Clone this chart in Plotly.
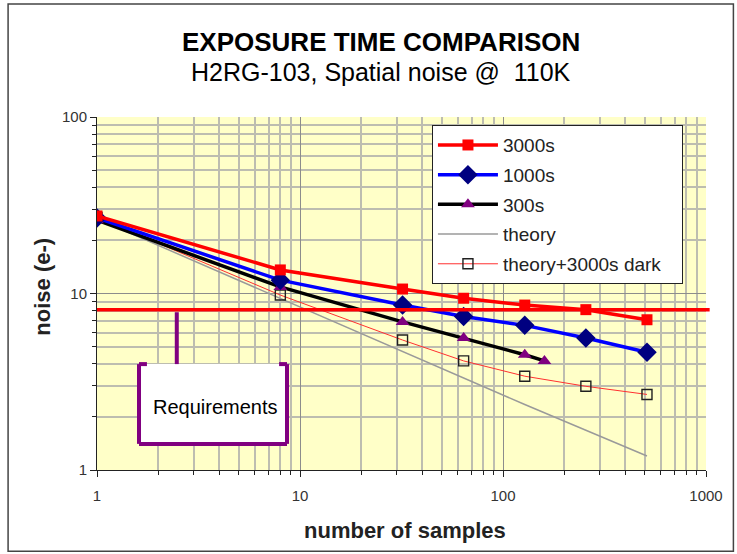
import plotly.graph_objects as go

# ============================
# DADOS
# ============================

samples = [1, 8, 32, 64, 128, 256, 512]
samples_300 = [1, 8, 32, 64, 128, 160]

noise_3000s = [27.5, 13.6, 10.6, 9.4, 8.6, 8.1, 7.1]
noise_1000s = [26.8, 11.9, 8.6, 7.4, 6.6, 5.6, 4.65]
noise_300s = [26.0, 10.9, 6.9, 5.6, 4.5, 4.15]
noise_theory = [26.5, 9.4, 4.7, 3.3, 2.35, 1.68, 1.2]
noise_theory_dark = [27.0, 9.8, 5.45, 4.15, 3.4, 2.98, 2.68]

requirement = 8.1

x_ticks = [1, 10, 100, 1000]
y_ticks = [1, 10, 100]
x_minor = [m * d for d in (1, 10, 100) for m in range(2, 10)]
y_minor = [m * d for d in (1, 10) for m in range(2, 10)]

FONT = "Liberation Sans, Arial, sans-serif"
PURPLE = "#800080"

fig = go.Figure()

# ============================
# SÉRIES
# ============================

fig.add_trace(go.Scatter(
    x=samples, y=noise_theory, name="theory", mode="lines",
    line=dict(color="#9a9a9a", width=1.5),
    legendrank=4, legendgroup="d",
))

fig.add_trace(go.Scatter(
    x=samples, y=noise_theory_dark, name="theory+3000s dark\u00a0\u00a0\u00a0",
    mode="lines+markers",
    line=dict(color="#ff3030", width=1),
    marker=dict(symbol="square-open", size=10, color="#202020", line=dict(width=1.4)),
    legendrank=5, legendgroup="e",
))

fig.add_trace(go.Scatter(
    x=samples_300, y=noise_300s, name="300s", mode="lines+markers",
    line=dict(color="#000000", width=3.5),
    marker=dict(symbol="triangle-up", size=12, color=PURPLE),
    legendrank=3, legendgroup="c",
))

fig.add_trace(go.Scatter(
    x=samples, y=noise_1000s, name="1000s", mode="lines+markers",
    line=dict(color="#0000ff", width=3.5),
    marker=dict(symbol="diamond", size=15, color="#000080"),
    legendrank=2, legendgroup="b",
))

fig.add_trace(go.Scatter(
    x=samples, y=noise_3000s, name="3000s", mode="lines+markers",
    line=dict(color="#ff0000", width=3.5),
    marker=dict(symbol="square", size=11, color="#ff0000"),
    legendrank=1, legendgroup="a",
))

# ============================
# LINHA DE REQUISITO + CAIXA
# ============================

fig.add_shape(type="line", xref="paper", yref="y", x0=0, x1=1.006,
              y0=requirement, y1=requirement,
              line=dict(color="#ff0000", width=3.5), layer="above")

fig.add_shape(type="rect", xref="paper", yref="paper", x0=0.069, x1=0.312,
              y0=0.074, y1=0.300, fillcolor="white", line=dict(width=0), layer="above")

box_lines = [
    (0.131, 0.131, 0.447, 0.300),   # haste
    (0.069, 0.069, 0.300, 0.074),   # esquerda
    (0.312, 0.312, 0.300, 0.074),   # direita
    (0.069, 0.312, 0.074, 0.074),   # base
    (0.069, 0.082, 0.300, 0.300),   # canto esq
    (0.299, 0.312, 0.300, 0.300),   # canto dir
]
for x0, x1, y0, y1 in box_lines:
    fig.add_shape(type="line", xref="paper", yref="paper", x0=x0, x1=x1, y0=y0, y1=y1,
                  line=dict(color=PURPLE, width=4), layer="above")

fig.add_annotation(text="Requirements", xref="paper", yref="paper", x=0.194, y=0.178,
                   xanchor="center", yanchor="middle", showarrow=False,
                   font=dict(size=20, color="black", family=FONT))

# moldura externa
fig.add_shape(type="rect", xref="paper", yref="paper",
              x0=-0.146, x1=1.045, y0=-0.23, y1=1.32,
              line=dict(color="#444444", width=1.5))

# ============================
# TÍTULOS
# ============================

fig.add_annotation(text="<b>EXPOSURE TIME COMPARISON</b>", xref="paper", yref="paper",
                   x=0.466, y=1.212, xanchor="center", yanchor="middle", showarrow=False,
                   font=dict(size=26, color="black", family=FONT))
fig.add_annotation(text="H2RG-103, Spatial noise @  110K", xref="paper", yref="paper",
                   x=0.466, y=1.127, xanchor="center", yanchor="middle", showarrow=False,
                   font=dict(size=25, color="black", family=FONT))
fig.add_annotation(text="<b>number of samples</b>", xref="paper", yref="paper",
                   x=0.505, y=-0.17, xanchor="center", yanchor="middle", showarrow=False,
                   font=dict(size=22, color="#222222", family=FONT))
fig.add_annotation(text="<b>noise (e-)</b>", xref="paper", yref="paper",
                   x=-0.09, y=0.52, xanchor="center", yanchor="middle", showarrow=False,
                   textangle=-90,
                   font=dict(size=22, color="#222222", family=FONT))

# ============================
# LAYOUT
# ============================

axis_common = dict(
    type="log",
    showgrid=True, gridcolor="#8c8c8c", gridwidth=1.2,
    showline=True, linecolor="#222222", linewidth=1,
    ticks="outside", ticklen=6, tickcolor="#222222",
    tickfont=dict(size=15, color="#333333", family=FONT),
    zeroline=False, mirror=False,
)

fig.update_xaxes(
    **axis_common,
    range=[0, 3],
    tickvals=x_ticks, ticktext=[str(v) for v in x_ticks],
    ticklabelstandoff=6,
    minor=dict(tickvals=x_minor, showgrid=True, gridcolor="#bdbdb0", gridwidth=2,
               ticks="outside", ticklen=4, tickcolor="#222222"),
)
fig.update_yaxes(
    **axis_common,
    range=[0, 2],
    tickvals=y_ticks, ticktext=[str(v) for v in y_ticks],
    minor=dict(tickvals=y_minor, showgrid=True, gridcolor="#bdbdb0", gridwidth=2,
               ticks="outside", ticklen=4, tickcolor="#222222"),
)

fig.update_layout(
    width=737, height=554,
    margin=dict(l=97, r=31, t=117, b=84),
    plot_bgcolor="#ffffc8",
    paper_bgcolor="white",
    font=dict(family=FONT),
    legend=dict(
        x=0.55, y=0.977, xanchor="left", yanchor="top",
        bgcolor="white", bordercolor="#222222", borderwidth=1,
        font=dict(size=19, color="#222222", family=FONT),
        tracegroupgap=2, itemwidth=60,
    ),
)

fig.write_html("out.html", config={"displayModeBar": False},
               post_script="document.body.style.margin='0';")
